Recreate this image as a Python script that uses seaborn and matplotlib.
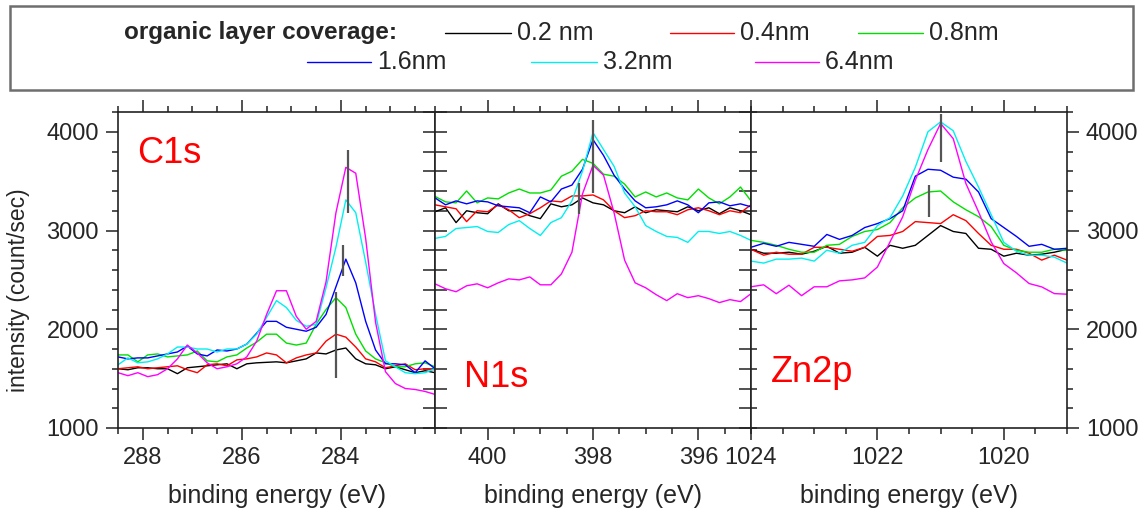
import numpy as np
import pandas as pd
import matplotlib
matplotlib.use("Agg")
import matplotlib.pyplot as plt
from matplotlib.ticker import MultipleLocator
from matplotlib.patches import Rectangle
from matplotlib.lines import Line2D
import seaborn as sns

# ---------------- data ----------------
coverages = ["0.2 nm", "0.4nm", "0.8nm", "1.6nm", "3.2nm", "6.4nm"]
colors = ["#000000", "#ff0000", "#00e000", "#0000ff", "#00f0f0", "#ff00ff"]
panel_names = ["C1s", "N1s", "Zn2p"]

# C1s : 288.5 -> 282.1 eV, step 0.2
c1s_energy = [288.5, 288.3, 288.1, 287.9, 287.7, 287.5, 287.3, 287.1, 286.9, 286.7, 286.5,
              286.3, 286.1, 285.9, 285.7, 285.5, 285.3, 285.1, 284.9, 284.7, 284.5, 284.3,
              284.1, 283.9, 283.7, 283.5, 283.3, 283.1, 282.9, 282.7, 282.5, 282.3, 282.1]
c1s_02 = [1600, 1590, 1610, 1610, 1600, 1600, 1550, 1610, 1620, 1630, 1640, 1650, 1600, 1650,
          1660, 1665, 1670, 1660, 1680, 1700, 1760, 1750, 1790, 1810, 1700, 1650, 1640, 1600,
          1620, 1590, 1560, 1580, 1560]
c1s_04 = [1600, 1610, 1620, 1600, 1610, 1620, 1630, 1590, 1560, 1640, 1650, 1630, 1690, 1700,
          1720, 1760, 1740, 1660, 1710, 1740, 1760, 1880, 1950, 1920, 1820, 1700, 1670, 1610,
          1630, 1650, 1590, 1600, 1590]
c1s_08 = [1740, 1740, 1670, 1740, 1750, 1720, 1730, 1740, 1780, 1680, 1670, 1720, 1740, 1810,
          1870, 1950, 1950, 1860, 1840, 1860, 2050, 2200, 2320, 2220, 1950, 1780, 1700, 1660,
          1620, 1620, 1650, 1660, 1620]
c1s_16 = [1720, 1700, 1710, 1710, 1730, 1750, 1770, 1830, 1750, 1730, 1790, 1780, 1800, 1850,
          1960, 2080, 2080, 2020, 2000, 1980, 2020, 2150, 2430, 2710, 2470, 2080, 1790, 1650,
          1650, 1640, 1560, 1680, 1600]
c1s_32 = [1640, 1710, 1660, 1670, 1700, 1750, 1820, 1820, 1800, 1800, 1770, 1800, 1800, 1850,
          1950, 2120, 2290, 2220, 2090, 2030, 2050, 2420, 2830, 3310, 3180, 2680, 2150, 1680,
          1620, 1560, 1550, 1560, 1600]
c1s_64 = [1560, 1530, 1560, 1520, 1540, 1600, 1700, 1840, 1760, 1660, 1600, 1620, 1650, 1720,
          1880, 2150, 2390, 2390, 2130, 2000, 2080, 2480, 3180, 3640, 3580, 2920, 2070, 1570,
          1450, 1400, 1390, 1370, 1340]

# N1s : 401.0 -> 395.0 eV, step 0.2
n1s_energy = [401.0, 400.8, 400.6, 400.4, 400.2, 400.0, 399.8, 399.6, 399.4, 399.2, 399.0,
              398.8, 398.6, 398.4, 398.2, 398.0, 397.8, 397.6, 397.4, 397.2, 397.0, 396.8,
              396.6, 396.4, 396.2, 396.0, 395.8, 395.6, 395.4, 395.2, 395.0]
n1s_02 = [3190, 3230, 3080, 3200, 3180, 3170, 3270, 3200, 3200, 3150, 3120, 3270, 3240, 3260,
          3330, 3280, 3260, 3200, 3180, 3240, 3180, 3210, 3200, 3190, 3240, 3200, 3230, 3170,
          3230, 3200, 3160]
n1s_04 = [3260, 3240, 3220, 3090, 3200, 3190, 3260, 3210, 3130, 3170, 3230, 3300, 3290, 3350,
          3350, 3360, 3310, 3200, 3130, 3150, 3200, 3190, 3190, 3160, 3210, 3230, 3200, 3160,
          3200, 3180, 3260]
n1s_08 = [3345, 3290, 3280, 3400, 3280, 3330, 3320, 3380, 3420, 3380, 3380, 3410, 3550, 3600,
          3720, 3680, 3570, 3550, 3470, 3340, 3390, 3340, 3380, 3330, 3310, 3420, 3330, 3270,
          3340, 3440, 3300]
n1s_16 = [3330, 3260, 3300, 3270, 3300, 3290, 3250, 3240, 3230, 3180, 3340, 3290, 3420, 3460,
          3620, 3920, 3760, 3560, 3420, 3300, 3230, 3240, 3260, 3300, 3260, 3180, 3280, 3290,
          3250, 3270, 3240]
n1s_32 = [2920, 2940, 3020, 3030, 3040, 2990, 2980, 3060, 3100, 3020, 2950, 3080, 3130, 3300,
          3600, 3990, 3820, 3650, 3380, 3240, 3050, 2990, 2940, 2930, 2880, 2990, 2990, 2970,
          2990, 2950, 2900]
n1s_64 = [2460, 2410, 2380, 2440, 2460, 2420, 2470, 2510, 2500, 2530, 2450, 2450, 2560, 2780,
          3370, 3660, 3560, 3180, 2700, 2470, 2420, 2350, 2290, 2360, 2320, 2340, 2310, 2270,
          2300, 2280, 2360]

# Zn2p : 1024.0 -> 1019.0 eV, step 0.2
zn_energy = [1024.0, 1023.8, 1023.6, 1023.4, 1023.2, 1023.0, 1022.8, 1022.6, 1022.4, 1022.2,
             1022.0, 1021.8, 1021.6, 1021.4, 1021.2, 1021.0, 1020.8, 1020.6, 1020.4, 1020.2,
             1020.0, 1019.8, 1019.6, 1019.4, 1019.2, 1019.0]
zn_02 = [2810, 2770, 2770, 2780, 2760, 2790, 2840, 2770, 2780, 2830, 2740, 2850, 2820, 2850,
         2950, 3050, 2990, 2970, 2820, 2810, 2740, 2770, 2750, 2760, 2780, 2810]
zn_04 = [2810, 2750, 2780, 2760, 2760, 2830, 2830, 2810, 2790, 2830, 2940, 2950, 2990, 3090,
         3080, 3070, 3160, 3100, 2970, 2850, 2810, 2810, 2770, 2700, 2750, 2700]
zn_08 = [2900, 2880, 2850, 2810, 2780, 2780, 2850, 2860, 2940, 2990, 3010, 3080, 3230, 3330,
         3390, 3400, 3290, 3210, 3140, 3040, 2850, 2800, 2780, 2780, 2810, 2800]
zn_16 = [2830, 2870, 2840, 2880, 2860, 2840, 2960, 2910, 2950, 3030, 3070, 3120, 3200, 3550,
         3620, 3610, 3540, 3520, 3390, 3120, 3030, 2940, 2840, 2860, 2810, 2820]
zn_32 = [2690, 2670, 2710, 2710, 2720, 2690, 2800, 2770, 2850, 2880, 3050, 3130, 3350, 3640,
         4000, 4100, 4010, 3700, 3440, 3160, 2880, 2790, 2750, 2750, 2730, 2670]
zn_64 = [2430, 2450, 2360, 2446, 2340, 2430, 2430, 2490, 2500, 2520, 2630, 2885, 3138, 3510,
         3820, 4084, 3930, 3476, 3189, 2885, 2665, 2571, 2463, 2429, 2361, 2355]

# peak marker bars: (panel index, energy, y_low, y_high)
marker_panel = [0, 0, 0, 1, 1, 2, 2]
marker_energy = [283.85, 283.95, 284.10, 398.0, 398.27, 1021.0, 1021.18]
marker_low = [3180, 2540, 1510, 3380, 3165, 3690, 3135]
marker_high = [3815, 2850, 2380, 4120, 3485, 4180, 3460]

x_limits = [(288.5, 282.1), (401.0, 395.0), (1024.0, 1019.0)]
y_limits = (1000, 4200)

# ---------------- build long-form table ----------------
panel_series = [
    (c1s_energy, [c1s_02, c1s_04, c1s_08, c1s_16, c1s_32, c1s_64]),
    (n1s_energy, [n1s_02, n1s_04, n1s_08, n1s_16, n1s_32, n1s_64]),
    (zn_energy, [zn_02, zn_04, zn_08, zn_16, zn_32, zn_64]),
]
rows = []
for pname, (en, series) in zip(panel_names, panel_series):
    for cov, vals in zip(coverages, series):
        for e, v in zip(en, vals):
            rows.append({"panel": pname, "coverage": cov, "energy": e, "intensity": v})
df = pd.DataFrame(rows)

# ---------------- style ----------------
sns.set_style("ticks")
plt.rcParams["font.family"] = ["Liberation Sans", "DejaVu Sans"]
plt.rcParams["axes.linewidth"] = 1.2
plt.rcParams["axes.edgecolor"] = "#222222"

fig = plt.figure(figsize=(11.39, 5.19), dpi=100)
W, H = 1139.0, 519.0
bottom = 1 - 428 / H
height = 316 / H
axes = [
    fig.add_axes([118 / W, bottom, 317 / W, height]),
    fig.add_axes([435 / W, bottom, 316 / W, height]),
    fig.add_axes([751 / W, bottom, 316 / W, height]),
]
palette = dict(zip(coverages, colors))

TL = 12 * 72 / 100.0   # 12 px
TS = 6 * 72 / 100.0    # 6 px
FS_TICK = 17

for i, ax in enumerate(axes):
    sub = df[df["panel"] == panel_names[i]]
    sns.lineplot(data=sub, x="energy", y="intensity", hue="coverage", hue_order=coverages,
                 palette=palette, estimator=None, sort=False, linewidth=1.0,
                 legend=False, ax=ax)
    sel = [k for k, p in enumerate(marker_panel) if p == i]
    ax.vlines([marker_energy[k] for k in sel], [marker_low[k] for k in sel],
              [marker_high[k] for k in sel], colors="#555555", linewidth=1.6, zorder=5)
    ax.set_xlim(*x_limits[i])
    ax.set_ylim(*y_limits)
    ax.xaxis.set_major_locator(MultipleLocator(2))
    ax.xaxis.set_minor_locator(MultipleLocator(0.5))
    ax.yaxis.set_major_locator(MultipleLocator(1000))
    ax.yaxis.set_minor_locator(MultipleLocator(200))
    ax.tick_params(axis="x", which="both", bottom=True, top=True, direction="out",
                   labelsize=FS_TICK, pad=5, width=1.1, color="#222222")
    ax.tick_params(axis="x", which="major", length=TL)
    ax.tick_params(axis="x", which="minor", length=TS)
    ax.set_xlabel("binding energy (eV)", fontsize=18, labelpad=11)
    ax.set_ylabel("")
    ax.xaxis.offsetText.set_visible(False)
    ax.yaxis.offsetText.set_visible(False)
    for s in ax.spines.values():
        s.set_visible(True)

# panel 1: left ticks out with labels, right ticks in
a1 = axes[0]
a1.tick_params(axis="y", which="both", left=True, right=False, direction="out",
               labelsize=FS_TICK, pad=5, width=1.1, color="#222222")
a1.tick_params(axis="y", which="major", length=TL)
a1.tick_params(axis="y", which="minor", length=TS)
s1 = a1.secondary_yaxis("right")
s1.yaxis.set_major_locator(MultipleLocator(1000))
s1.yaxis.set_minor_locator(MultipleLocator(200))
s1.tick_params(axis="y", which="both", direction="in", length=TL, width=1.1,
               labelright=False, color="#222222")
s1.spines["right"].set_visible(False)
fig.text(19 / W, 1 - 290 / H, "intensity (count/sec)", fontsize=16.5, rotation=90,
         ha="center", va="center")

# panel 2: both sides in, no labels
a2 = axes[1]
a2.tick_params(axis="y", which="both", left=True, right=True, direction="in",
               labelleft=False, labelright=False, length=TL, width=1.1, color="#222222")

# panel 3: left ticks in (short), right ticks out with labels
a3 = axes[2]
a3.tick_params(axis="y", which="both", left=True, right=False, direction="in",
               labelleft=False, length=TS, width=1.1, color="#222222")
s3 = a3.secondary_yaxis("right")
s3.yaxis.set_major_locator(MultipleLocator(1000))
s3.yaxis.set_minor_locator(MultipleLocator(200))
s3.tick_params(axis="y", which="both", direction="out", width=1.1, labelsize=FS_TICK,
               pad=5, color="#222222")
s3.tick_params(axis="y", which="major", length=TL)
s3.tick_params(axis="y", which="minor", length=TS)
s3.spines["right"].set_visible(False)
for s in (s1, s3):
    s.yaxis.offsetText.set_visible(False)

# panel labels
label_pos = [(0.06, 0.839), (0.092, 0.13), (0.063, 0.146)]
for ax, name, (lx, ly) in zip(axes, panel_names, label_pos):
    ax.text(lx, ly, name, transform=ax.transAxes, color="#ff0000", fontsize=26,
            ha="left", va="baseline")

# ---------------- legend box ----------------
fig.add_artist(Rectangle((10 / W, 1 - 90 / H), 1123 / W, 84 / H, transform=fig.transFigure,
                         facecolor="white", edgecolor="#6e6e6e", linewidth=1.8))
fig.text(124 / W, 1 - 33 / H, "organic layer coverage:", fontsize=17.5, fontweight="bold",
         ha="left", va="center")
legend_layout = [  # line x0, line x1, row y (px)
    (445, 511, 33), (670, 734, 33), (858, 923, 33),
    (307, 371, 62), (531, 597, 62), (755, 819, 62),
]
for (x0, x1, yy), lab, col in zip(legend_layout, coverages, colors):
    fig.add_artist(Line2D([x0 / W, x1 / W], [1 - yy / H, 1 - yy / H],
                          transform=fig.transFigure, color=col, linewidth=1.0))
    fig.text((x1 + 6) / W, 1 - yy / H, lab, fontsize=18, ha="left", va="center")

fig.savefig("out.png", dpi=100)
